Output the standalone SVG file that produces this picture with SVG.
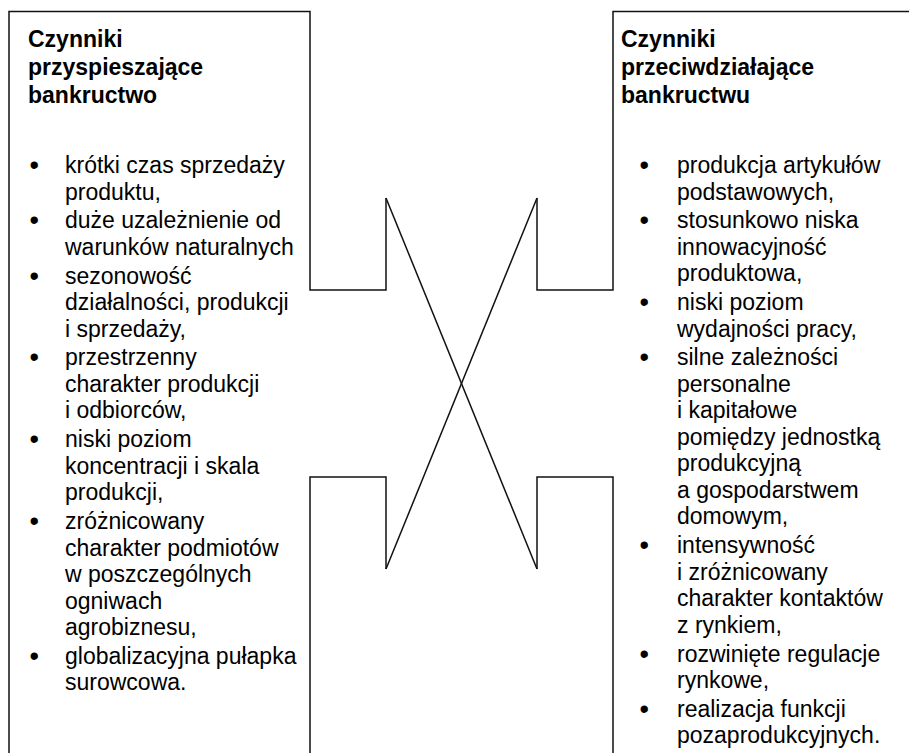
<svg xmlns="http://www.w3.org/2000/svg" width="909" height="753" viewBox="0 0 909 753">
<style>
.ln{fill:none;stroke:#111;stroke-width:1.5;stroke-linejoin:miter}
.t{font-family:"Liberation Sans",Arial,sans-serif;font-size:23px;fill:#000}
.h{font-weight:bold}
.b{font-size:27px}
</style>
<rect width="909" height="753" fill="#fff"/>
<g id="left-box">
<path class="ln" d="M9,760 V11.5 H310 V290 H386 V198 M386,569 V477 H310 V760"/>
<text class="t h"><tspan x="28" y="47">Czynniki</tspan><tspan x="28" y="75">przyspieszające</tspan><tspan x="28" y="103">bankructwo</tspan></text>
<g class="t">
<text class="b" x="29.5" y="174">•</text><text x="65" y="173">krótki czas sprzedaży</text><text x="65" y="199.5">produktu,</text>
<text class="b" x="29.5" y="229.3">•</text><text x="65" y="228.3">duże uzależnienie od</text><text x="65" y="254.8">warunków naturalnych</text>
<text class="b" x="29.5" y="284.6">•</text><text x="65" y="283.6">sezonowość</text><text x="65" y="310.1">działalności, produkcji</text><text x="65" y="336.6">i sprzedaży,</text>
<text class="b" x="29.5" y="366.4">•</text><text x="65" y="365.4">przestrzenny</text><text x="65" y="391.9">charakter produkcji</text><text x="65" y="418.4">i odbiorców,</text>
<text class="b" x="29.5" y="448.2">•</text><text x="65" y="447.2">niski poziom</text><text x="65" y="473.7">koncentracji i skala</text><text x="65" y="500.2">produkcji,</text>
<text class="b" x="29.5" y="530">•</text><text x="65" y="529">zróżnicowany</text><text x="65" y="555.5">charakter podmiotów</text><text x="65" y="582">w poszczególnych</text><text x="65" y="608.5">ogniwach</text><text x="65" y="635">agrobiznesu,</text>
<text class="b" x="29.5" y="664.8">•</text><text x="65" y="663.8">globalizacyjna pułapka</text><text x="65" y="690.3">surowcowa.</text>
</g>
</g>
<g id="right-box">
<path class="ln" d="M910,11.5 H613 V290 H537 V198 M537,569 V477 H613 V760"/>
<text class="t h"><tspan x="621" y="47">Czynniki</tspan><tspan x="621" y="75">przeciwdziałające</tspan><tspan x="621" y="103">bankructwu</tspan></text>
<g class="t">
<text class="b" x="639.5" y="174">•</text><text x="677" y="173">produkcja artykułów</text><text x="677" y="199.5">podstawowych,</text>
<text class="b" x="639.5" y="229.3">•</text><text x="677" y="228.3">stosunkowo niska</text><text x="677" y="254.8">innowacyjność</text><text x="677" y="281.3">produktowa,</text>
<text class="b" x="639.5" y="311.1">•</text><text x="677" y="310.1">niski poziom</text><text x="677" y="336.6">wydajności pracy,</text>
<text class="b" x="639.5" y="366.4">•</text><text x="677" y="365.4">silne zależności</text><text x="677" y="391.9">personalne</text><text x="677" y="418.4">i kapitałowe</text><text x="677" y="444.9">pomiędzy jednostką</text><text x="677" y="471.4">produkcyjną</text><text x="677" y="497.9">a gospodarstwem</text><text x="677" y="524.4">domowym,</text>
<text class="b" x="639.5" y="554.2">•</text><text x="677" y="553.2">intensywność</text><text x="677" y="579.7">i zróżnicowany</text><text x="677" y="606.2">charakter kontaktów</text><text x="677" y="632.7">z rynkiem,</text>
<text class="b" x="639.5" y="662.5">•</text><text x="677" y="661.5">rozwinięte regulacje</text><text x="677" y="688">rynkowe,</text>
<text class="b" x="639.5" y="717.8">•</text><text x="677" y="716.8">realizacja funkcji</text><text x="677" y="743.3">pozaprodukcyjnych.</text>
</g>
</g>
<g id="connectors">
<line class="ln" x1="386" y1="198" x2="537" y2="569"/>
<line class="ln" x1="537" y1="198" x2="386" y2="569"/>
</g>
</svg>
